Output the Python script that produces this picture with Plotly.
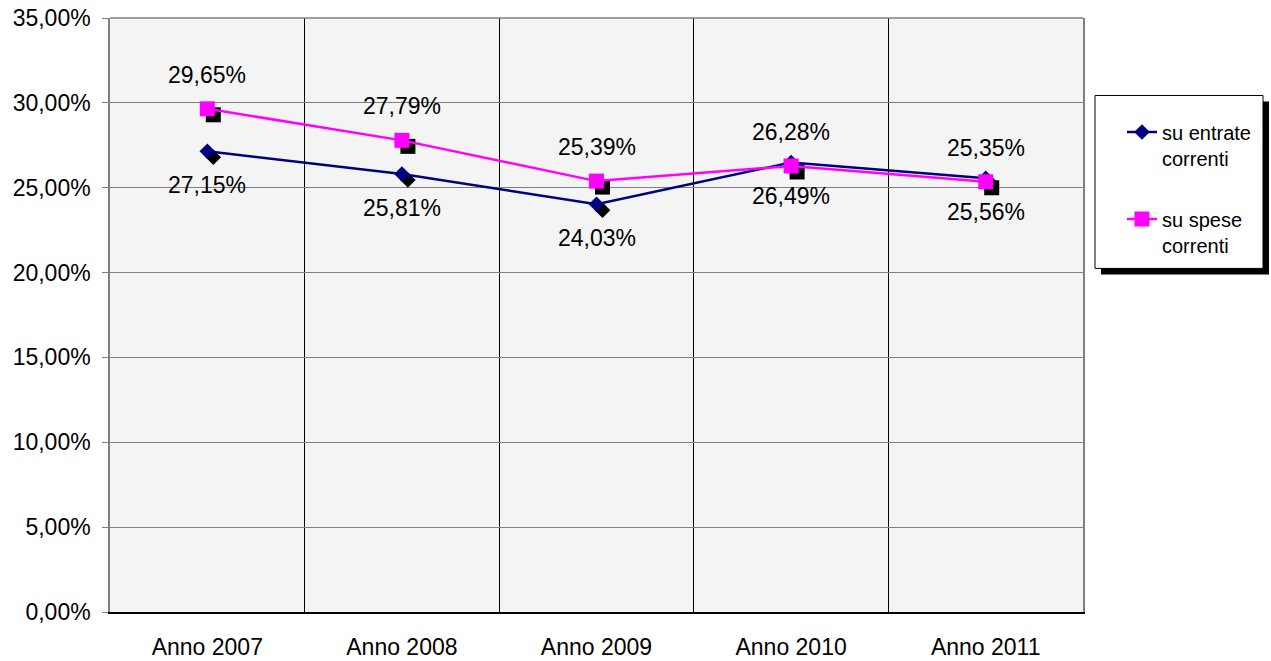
import plotly.graph_objects as go

categories = ["Anno 2007", "Anno 2008", "Anno 2009", "Anno 2010", "Anno 2011"]
entrate = [27.15, 25.81, 24.03, 26.49, 25.56]
spese = [29.65, 27.79, 25.39, 26.28, 25.35]
series_names = ["su entrate<br>correnti", "su spese<br>correnti"]
y_ticks = [0, 5, 10, 15, 20, 25, 30, 35]
y_tick_labels = ["0,00%", "5,00%", "10,00%", "15,00%", "20,00%", "25,00%", "30,00%", "35,00%"]

W, H = 1271, 661
# target plot area on screen: x 110..1083, y 17.5..611.7
ML = 110
MT = 17.5
MR = W - 1083
MB = H - 611.7
PW, PH = W - ML - MR, H - MT - MB
YMAX = 35
xs = list(range(len(categories)))

# shadow offset (pixels -> data units)
SH = 6
dx = SH / (PW / len(categories))
dy = SH / (PH / YMAX)

fig = go.Figure()

# marker shadows
fig.add_trace(go.Scatter(x=[x + dx for x in xs], y=[v - dy for v in entrate], mode="markers",
                         marker=dict(symbol="diamond", size=12, color="black"),
                         showlegend=False, hoverinfo="skip"))
fig.add_trace(go.Scatter(x=[x + dx for x in xs], y=[v - dy for v in spese], mode="markers",
                         marker=dict(symbol="square", size=15, color="black"),
                         showlegend=False, hoverinfo="skip"))

fig.add_trace(go.Scatter(x=xs, y=entrate, mode="lines+markers", name=series_names[0],
                         line=dict(color="#000080", width=2.5),
                         marker=dict(symbol="diamond", size=12, color="#000080"),
                         legendgroup="a"))
fig.add_trace(go.Scatter(x=xs, y=spese, mode="lines+markers", name=series_names[1],
                         line=dict(color="#FF00FF", width=2.5),
                         marker=dict(symbol="square", size=15, color="#FF00FF"),
                         legendgroup="b"))

def fmt(v):
    return f"{v:.2f}".replace(".", ",") + "%"

ann = []
for x, v in zip(xs, entrate):
    ann.append(dict(x=x, y=v, text=fmt(v), showarrow=False, yshift=-34,
                    font=dict(size=23, color="black")))
for x, v in zip(xs, spese):
    ann.append(dict(x=x, y=v, text=fmt(v), showarrow=False, yshift=34,
                    font=dict(size=23, color="black")))

# screen pixel -> paper coords
def px_x(p):
    return (p - ML) / PW
def px_y(p):
    return (H - MB - p) / PH

shapes = [
    # top border of plot area
    dict(type="line", xref="paper", yref="paper", x0=0, x1=1, y0=1, y1=1,
         line=dict(color="#808080", width=1.5), layer="above"),
    # legend shadow + box
    dict(type="rect", xref="paper", yref="paper",
         x0=px_x(1095 + SH), x1=px_x(1263 + SH), y0=px_y(268 + SH), y1=px_y(95 + SH),
         fillcolor="black", line=dict(width=0), layer="above"),
    dict(type="rect", xref="paper", yref="paper",
         x0=px_x(1095), x1=px_x(1263), y0=px_y(268), y1=px_y(95),
         fillcolor="white", line=dict(color="black", width=1), layer="above"),
]

fig.update_layout(
    width=W, height=H,
    margin=dict(l=ML, r=MR, t=MT, b=MB, pad=0, autoexpand=False),
    paper_bgcolor="white",
    plot_bgcolor="#f4f4f4",
    separators=",.",
    font=dict(family="Liberation Sans, Arial, sans-serif", size=22, color="black"),
    annotations=ann,
    shapes=shapes,
    showlegend=True,
    legend=dict(x=px_x(1122), y=px_y(112), xanchor="left", yanchor="top",
                bgcolor="rgba(0,0,0,0)", borderwidth=0,
                font=dict(size=20, color="black"), valign="top",
                tracegroupgap=32),
    xaxis=dict(range=[-0.5, len(categories) - 0.5], tickmode="array", tickvals=xs,
               ticktext=categories, showgrid=False, zeroline=False, automargin=False,
               showline=True, linecolor="black", linewidth=1.5, ticks="",
               ticklabelstandoff=14, tickfont=dict(size=23),
               minor=dict(tickmode="linear", tick0=-0.5, dtick=1, showgrid=True,
                          gridcolor="black", gridwidth=1.2, ticks="")),
    yaxis=dict(range=[0, YMAX], tickmode="array", tickvals=y_ticks, ticktext=y_tick_labels,
               showgrid=True, gridcolor="#808080", automargin=False,
               gridwidth=1, zeroline=False, showline=True, linecolor="#808080",
               linewidth=1.5, mirror=True, ticks="outside", ticklen=6,
               tickcolor="#808080", ticklabelstandoff=7, tickfont=dict(size=23)),
)

fig.write_html("out.html", config={"displayModeBar": False},
               post_script="document.body.style.margin='0';document.body.style.padding='0';")
